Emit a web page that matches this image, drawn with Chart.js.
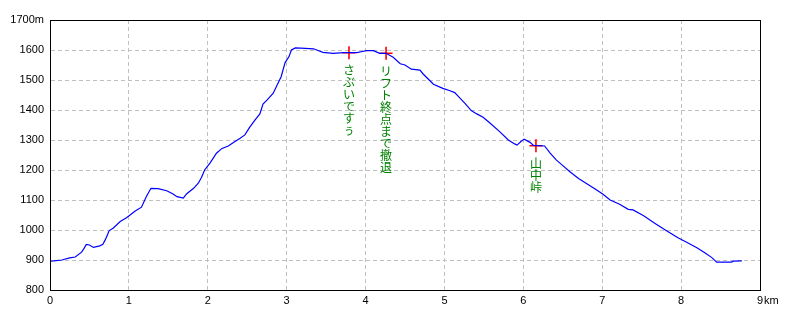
<!DOCTYPE html>
<html>
<head>
<meta charset="utf-8">
<script src="https://cdn.jsdelivr.net/npm/chart.js@4"></script>
<style>
  html, body { margin: 0; padding: 0; background: #fff; }
  #wrap { width: 800px; height: 320px; }
</style>
</head>
<body>
<div id="wrap"><canvas id="profileChart"></canvas></div>
<script>
// distance along the route (km) and elevation (m)
const distKm = [0.00, 0.05, 0.15, 0.25, 0.32, 0.40, 0.43, 0.46, 0.50, 0.55, 0.63, 0.67, 0.70, 0.73, 0.75, 0.80, 0.89, 0.97,
  1.08, 1.16, 1.22, 1.28, 1.37, 1.48, 1.56, 1.61, 1.69, 1.73, 1.82, 1.88, 1.92, 1.96, 2.03, 2.11, 2.18, 2.26, 2.34, 2.41,
  2.47, 2.53, 2.60, 2.66, 2.70, 2.75, 2.83, 2.87, 2.93, 2.98, 3.03, 3.06, 3.11, 3.18, 3.34, 3.38, 3.46, 3.59, 3.72, 3.89,
  3.96, 4.01, 4.10, 4.18, 4.26, 4.35, 4.44, 4.50, 4.58, 4.69, 4.73, 4.86, 4.98, 5.07, 5.13, 5.20, 5.26, 5.34, 5.41, 5.49,
  5.58, 5.70, 5.81, 5.89, 5.92, 5.97, 6.01, 6.08, 6.13, 6.27, 6.34, 6.42, 6.49, 6.59, 6.70, 6.82, 6.93, 7.01, 7.10, 7.22,
  7.33, 7.39, 7.52, 7.67, 7.82, 7.96, 8.07, 8.20, 8.30, 8.39, 8.45, 8.64, 8.66, 8.77];
const elevM = [896, 897, 900, 907, 910, 926, 938, 952, 950, 942, 947, 952, 967, 985, 998, 1006, 1028, 1041,
  1063, 1076, 1111, 1139, 1138, 1131, 1120, 1111, 1106, 1120, 1139, 1156, 1175, 1200, 1224, 1256, 1272, 1280, 1294, 1306,
  1317, 1342, 1367, 1387, 1420, 1433, 1456, 1478, 1511, 1558, 1578, 1600, 1607, 1606, 1604, 1600, 1592, 1589, 1591, 1591,
  1595, 1598, 1598, 1589, 1589, 1576, 1554, 1550, 1536, 1533, 1520, 1486, 1472, 1464, 1458, 1439, 1422, 1398, 1387, 1376,
  1356, 1328, 1300, 1287, 1283, 1295, 1303, 1293, 1282, 1280, 1256, 1233, 1217, 1194, 1172, 1152, 1133, 1119, 1100, 1086,
  1069, 1067, 1048, 1022, 997, 974, 959, 941, 924, 908, 893, 893, 896, 897];

// waypoints with notes
const markKm = [3.79, 4.26, 6.16];
const markM = [1591, 1589, 1281];
const markNotes = ["さぶいですぅ", "リフト終点まで撤退", "山中峠"];

const xTicks = [0, 1, 2, 3, 4, 5, 6, 7, 8, 9];
const yTicks = [800, 900, 1000, 1100, 1200, 1300, 1400, 1500, 1600, 1700];

const tickFont = { family: "'Liberation Sans', Arial, sans-serif", size: 11 };

// black frame round the plot + "km" unit after the last x label
const framePlugin = {
  id: "frame",
  afterDraw(chart) {
    const { ctx, chartArea: a, scales } = chart;
    ctx.save();
    ctx.strokeStyle = "#000";
    ctx.lineWidth = 1;
    ctx.setLineDash([]);
    ctx.strokeRect(a.left + 0.5, a.top + 0.5, a.right - a.left, a.bottom - a.top);
    ctx.font = "11px 'Liberation Sans', Arial, sans-serif";
    ctx.fillStyle = "#000";
    ctx.textBaseline = "middle";
    const x9 = scales.x.getPixelForValue(xTicks[xTicks.length - 1]);
    ctx.fillText("km", x9 + ctx.measureText("9").width / 2 + 1, a.bottom + 11);
    ctx.restore();
  },
};

// vertical green notes under each marker
const notesPlugin = {
  id: "notes",
  afterDatasetsDraw(chart) {
    const { ctx, scales } = chart;
    ctx.save();
    ctx.font = "12px 'Noto Sans CJK JP', sans-serif";
    ctx.fillStyle = "#008000";
    ctx.textAlign = "center";
    ctx.textBaseline = "middle";
    markNotes.forEach((note, i) => {
      const px = scales.x.getPixelForValue(markKm[i]);
      const py = scales.y.getPixelForValue(markM[i]);
      Array.from(note).forEach((ch, j) => {
        ctx.fillText(ch, px, py + 18 + j * 12);
      });
    });
    ctx.restore();
  },
};

new Chart(document.getElementById("profileChart"), {
  type: "scatter",
  data: {
    datasets: [
      {
        label: "elevation",
        data: distKm.map((d, i) => ({ x: d, y: elevM[i] })),
        showLine: true,
        borderColor: "#0000ff",
        borderWidth: 1.2,
        pointRadius: 0,
        tension: 0,
      },
      {
        label: "marks",
        data: markKm.map((d, i) => ({ x: d, y: markM[i] })),
        showLine: false,
        pointStyle: "cross",
        pointRadius: 6.5,
        borderColor: "#ff0000",
        borderWidth: 1.6,
      },
    ],
  },
  options: {
    responsive: true,
    maintainAspectRatio: false,
    animation: false,
    layout: { padding: { top: 20, right: 40, left: 0, bottom: 0 } },
    plugins: { legend: { display: false }, tooltip: { enabled: false } },
    scales: {
      x: {
        type: "linear",
        min: 0,
        max: 9,
        afterBuildTicks: (s) => { s.ticks = xTicks.map((v) => ({ value: v })); },
        afterFit: (s) => { s.height = 30; s.paddingLeft = 0; s.paddingRight = 0; },
        ticks: { color: "#000", font: tickFont, padding: 4, maxRotation: 0 },
        grid: { color: "#c0c0c0", drawTicks: false, tickLength: 0 },
        border: { display: true, color: "#000", width: 1, dash: [4, 3] },
      },
      y: {
        min: 800,
        max: 1700,
        afterBuildTicks: (s) => { s.ticks = yTicks.map((v) => ({ value: v })); },
        afterFit: (s) => { s.width = 50; s.paddingTop = 0; s.paddingBottom = 0; },
        ticks: {
          color: "#000",
          font: tickFont,
          padding: 6,
          callback: (v) => (v === yTicks[yTicks.length - 1] ? v + "m" : v),
        },
        grid: { color: "#c0c0c0", drawTicks: false, tickLength: 0 },
        border: { display: true, color: "#000", width: 1, dash: [4, 3] },
      },
    },
  },
  plugins: [framePlugin, notesPlugin],
});
</script>
</body>
</html>
